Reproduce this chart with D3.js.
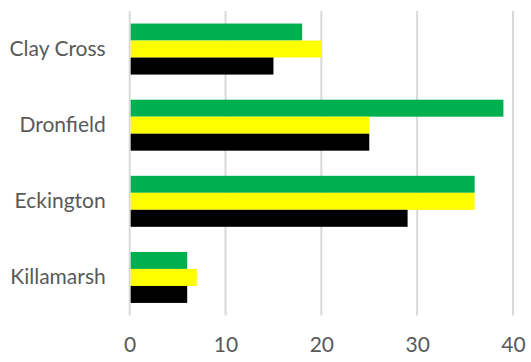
<!DOCTYPE html>
<html>
<head>
<meta charset="utf-8">
<script src="https://cdn.jsdelivr.net/npm/d3@7"></script>
<style>
  html, body { margin: 0; padding: 0; background: #fff; }
  svg { display: block; }
</style>
</head>
<body>
<svg id="chart" width="531" height="362"></svg>
<script>
// Categories (top to bottom) and the three series per category
const categories = ["Clay Cross", "Dronfield", "Eckington", "Killamarsh"];
const seriesNames = ["Green", "Yellow", "Black"];
const greenValues = [18, 39, 36, 6];
const yellowValues = [20, 25, 36, 7];
const blackValues = [15, 25, 29, 6];
const xTicks = [0, 10, 20, 30, 40];

const seriesColors = ["#00b050", "#ffff00", "#000000"];
const seriesValues = [greenValues, yellowValues, blackValues];

const svg = d3.select("#chart");
const plotLeft = 129.7, plotRight = 513, plotTop = 11, plotBottom = 315.5;

const x = d3.scaleLinear().domain([0, 40]).range([plotLeft, plotRight]);
const y = d3.scaleBand().domain(categories).range([plotTop, plotBottom])
  .paddingInner(0.33).paddingOuter(0.165);
const ySub = d3.scaleBand().domain(seriesNames).range([0, y.bandwidth()]);

// Vertical gridlines
svg.append("g")
  .selectAll("line")
  .data(xTicks)
  .join("line")
  .attr("x1", d => x(d)).attr("x2", d => x(d))
  .attr("y1", plotTop).attr("y2", plotBottom)
  .attr("stroke", "#d9d9d9")
  .attr("stroke-width", 2);

// Bars
const rows = categories.map((c, i) => ({
  category: c,
  values: seriesNames.map((s, j) => ({ series: s, value: seriesValues[j][i], color: seriesColors[j] }))
}));

svg.append("g")
  .selectAll("g")
  .data(rows)
  .join("g")
  .attr("transform", d => `translate(0,${y(d.category)})`)
  .selectAll("rect")
  .data(d => d.values)
  .join("rect")
  .attr("x", x(0) + 1)
  .attr("y", d => ySub(d.series))
  .attr("width", d => x(d.value) - x(0) - 1)
  .attr("height", ySub.bandwidth())
  .attr("fill", d => d.color);

// Category labels
const yAxis = d3.axisLeft(y).tickSize(0).tickPadding(24);
svg.append("g")
  .attr("transform", `translate(${plotLeft},0)`)
  .call(yAxis)
  .call(g => g.select(".domain").remove())
  .call(g => g.selectAll("text")
    .attr("fill", "#595959")
    .style("font-family", "Lato, 'Open Sans', sans-serif")
    .style("font-size", "21px"));

// Value axis labels
const xAxis = d3.axisBottom(x).tickValues(xTicks).tickSize(0).tickPadding(0);
svg.append("g")
  .attr("transform", `translate(0,${plotBottom + 22})`)
  .call(xAxis)
  .call(g => g.select(".domain").remove())
  .call(g => g.selectAll("text")
    .attr("fill", "#595959")
    .style("font-family", "Lato, 'Open Sans', sans-serif")
    .style("font-size", "21px"));
</script>
</body>
</html>
